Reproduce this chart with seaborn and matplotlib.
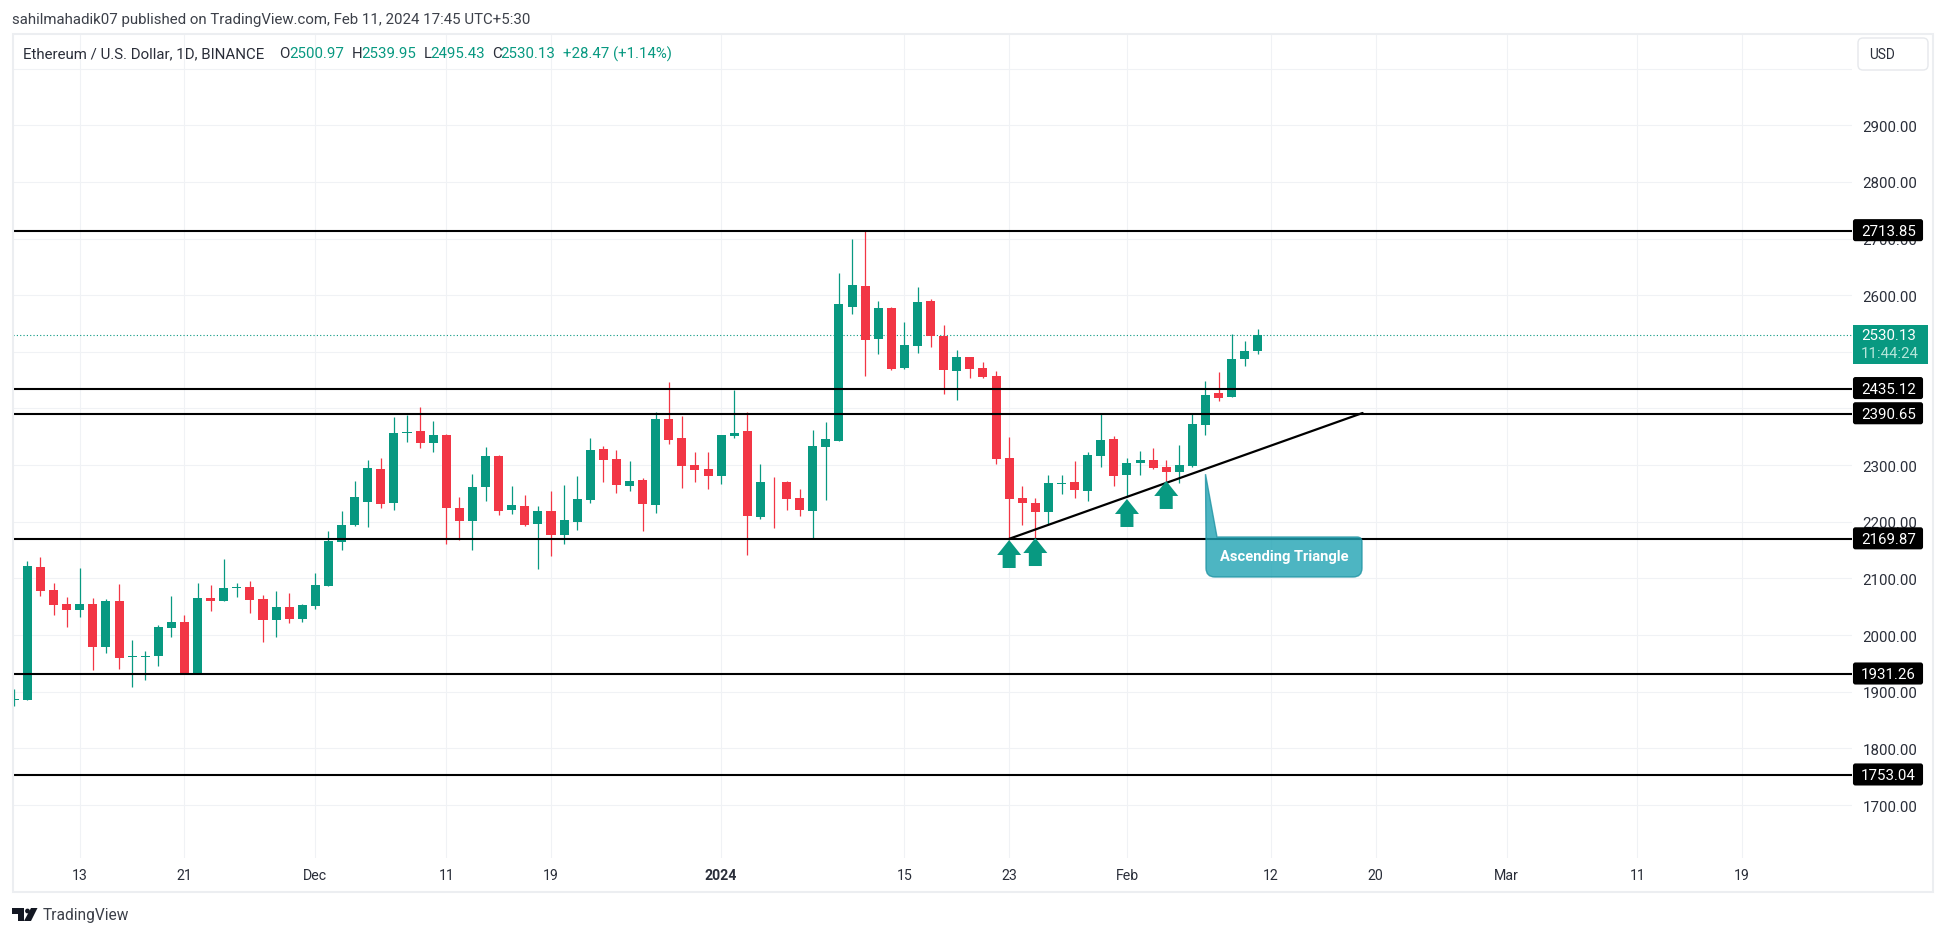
import numpy as np
import pandas as pd
import matplotlib
matplotlib.use('Agg')
import matplotlib.pyplot as plt
from matplotlib.patches import FancyBboxPatch, Rectangle, Polygon, PathPatch, Circle
from matplotlib.path import Path
from matplotlib.transforms import IdentityTransform
import seaborn as sns

opens = [1886, 1885.4, 2120, 2079.6, 2054.8, 2044.2, 2054.8, 1979, 2060.1, 1961.5, 1961.5, 1963, 2012.5, 2023, 1931.3, 2065.4,
         2060.1, 2083, 2084.9, 2063.7, 2026.6, 2049.6, 2028.3,
         2051.3, 2086.6, 2164.3, 2194.3, 2234.9, 2293.1, 2233, 2357.5, 2360.2, 2339, 2353.2, 2224.3, 2201.3, 2261.4, 2316,
         2220.8, 2227.8, 2196, 2219, 2176.6, 2199.6, 2238.4, 2328.5, 2310.8, 2263.2, 2273.7, 2229.6, 2381.4, 2347.9, 2300.2, 2293.1,
         2280.8, 2351.4, 2360.2, 2208.4, 2271, 2270.2, 2242, 2219, 2332, 2342.6, 2579, 2616, 2522.6, 2577.3, 2471.5, 2510.3,
         2589.7, 2527.9, 2466.1, 2490.8, 2471.5, 2457.3, 2312.6, 2242, 2233, 2217.2, 2267, 2270.2, 2254.3, 2316, 2346,
         2282.5, 2303.7, 2309, 2296.7, 2287.9, 2298.5, 2370.8, 2427.3, 2420.2, 2487.3, 2500.97]
highs = [1905, 2130, 2137.8, 2091.9, 2067.2, 2118.4, 2065.4, 2063.6, 2090.2, 1991.3, 1971.9, 2017.8, 2069, 2035.4, 2091.9, 2088.4,
         2134.3, 2091.9, 2095.4, 2070.8, 2077.8, 2074.2, 2054.9,
         2109.6, 2183.7, 2219, 2272, 2309, 2312.6, 2385, 2388.5, 2402.6, 2377.9, 2354.9, 2243.7, 2284.3, 2332, 2317.9,
         2263.2, 2247.3, 2227.8, 2254.3, 2264.9, 2280.8, 2347.9, 2333.8, 2326.7, 2307.3, 2277.3, 2393.8, 2446.7, 2386.7, 2323.2, 2323.2,
         2354, 2432.6, 2393.8, 2302, 2279, 2272, 2257.9, 2362, 2376, 2639, 2699, 2715, 2589.7, 2579, 2552.6, 2614.4,
         2593.2, 2547.3, 2503.2, 2491, 2482, 2466.2, 2349.6, 2263.2, 2242, 2282.5, 2282.5, 2307.3, 2323.2, 2390.2, 2351.4,
         2312.6, 2324.9, 2330.2, 2309, 2335.5, 2392, 2448.5, 2464.4, 2531.4, 2519, 2539.95]
lows = [1875, 1885, 2069, 2035.4, 2014.2, 2031.9, 1938.3, 1968.3, 1940, 1908.3, 1920.7, 1945.4, 1996.6, 1932, 1931, 2042.5,
        2060, 2067.2, 2039, 1987.8, 1996.6, 2021.3, 2023,
        2046, 2086, 2150.2, 2192.5, 2190.8, 2224.3, 2220.8, 2340.8, 2330.2, 2323.2, 2160.8, 2167.8, 2150.2, 2236.7, 2212,
        2213.7, 2192.5, 2116.6, 2139.6, 2160.8, 2185.5, 2233, 2270.2, 2250.8, 2254.3, 2183.7, 2215.5, 2337.3, 2259.6, 2270.2, 2257.9,
        2266.7, 2347.9, 2141.3, 2204.9, 2189, 2220.8, 2210.2, 2171.3, 2238.4, 2342, 2566.7, 2457.3, 2496.1, 2467.9, 2469.7, 2497.9,
        2508.5, 2425.5, 2415, 2453.8, 2453.8, 2302, 2167.8, 2194.3, 2171.3, 2196, 2249, 2242, 2236.7, 2296.7, 2263.2,
        2243.7, 2282.5, 2293.1, 2270.2, 2268.4, 2296.7, 2353.2, 2413.2, 2420, 2475, 2495.43]
closes = [1888, 2121.9, 2077.8, 2053, 2044.2, 2054.8, 1979, 2060.1, 1959.5, 1963, 1963, 2014.2, 2023, 1932.4, 2065.4, 2060.1,
          2083, 2084.5, 2061.9, 2026.6, 2049.6, 2028.3, 2053,
          2088.4, 2166, 2194.3, 2243.7, 2294.9, 2231.3, 2356.7, 2359, 2339, 2353.2, 2224.3, 2201.3, 2261.4, 2316, 2219,
          2229.6, 2194.3, 2219, 2176.6, 2203, 2240.2, 2326.7, 2309, 2264.9, 2272, 2231.3, 2381.4, 2344.3, 2298.5, 2291.3, 2280.8,
          2353.2, 2356.7, 2210.2, 2270.2, 2269.5, 2240.2, 2220.8, 2333.8, 2346, 2584.4, 2618, 2520.9, 2577.3, 2469.7, 2512, 2588,
          2527.9, 2467.9, 2490.8, 2469.7, 2455.5, 2310.8, 2240.2, 2233, 2217.2, 2268.4, 2269, 2256, 2317.9, 2344.3, 2280.8,
          2303.7, 2309, 2294.9, 2287.9, 2300.2, 2372.6, 2423.8, 2418.5, 2487.3, 2501.4, 2530.13]

levels = [2713.85, 2435.12, 2390.65, 2169.87, 1931.26, 1753.04]
last_close = 2530.13
price_ticks = [1700, 1800, 1900, 2000, 2100, 2200, 2300, 2400, 2500, 2600, 2700, 2800, 2900]
grid_top = 3000
tick_dates = ['2023-11-13', '2023-11-21', '2023-12-01', '2023-12-11', '2023-12-19', '2024-01-01', '2024-01-15',
              '2024-01-23', '2024-02-01', '2024-02-12', '2024-02-20', '2024-03-01', '2024-03-11', '2024-03-19']
tick_names = ['13', '21', 'Dec', '11', '19', '2024', '15', '23', 'Feb', '12', '20', 'Mar', '11', '19']
arrow_dates = ['2024-01-23', '2024-01-25', '2024-02-01', '2024-02-04']
arrow_prices = [2167.8, 2171.3, 2240.2, 2272]
trend_dates = ['2024-01-23', '2024-02-19']
trend_prices = [2169.87, 2392]
callout_date = '2024-02-07'
callout_price = 2284

GREEN = '#089981'
RED = '#f23645'
INK = '#2a2e39'
GRID = '#f0f2f5'
FRAME = '#eceef1'
FONT = 'Roboto'

W, H = 1946, 937

dates = pd.date_range('2023-11-08', periods=len(opens), freq='D')
df = pd.DataFrame({'date': dates, 'open': opens, 'high': highs, 'low': lows, 'close': closes})
df['day'] = (df['date'] - dates[0]).dt.days
df['bottom'] = df[['open', 'close']].min(axis=1)
df['body'] = (df['close'] - df['open']).abs().clip(lower=1.5)
df['up'] = df['close'] >= df['open']


def to_day(d):
    return (pd.Timestamp(d) - dates[0]).days


sns.set_theme(style='white')
plt.rcParams['font.family'] = [FONT, 'DejaVu Sans']

fig = plt.figure(figsize=(W / 100, H / 100), dpi=100, facecolor='white')
ax = fig.add_axes([13 / W, 1 - 859 / H, (1852 - 13) / W, (859 - 36) / H])

# candles
for is_up, color in [(True, GREEN), (False, RED)]:
    part = df[df['up'] == is_up]
    ax.vlines(part['day'], part['low'], part['high'], colors=color, linewidth=0.9, zorder=3)
    sns.barplot(data=part, x='day', y='body', bottom=part['bottom'].values, native_scale=True, errorbar=None,
                color=color, saturation=1, width=0.69, linewidth=0, zorder=4, ax=ax)

ax.set_xlim((13 - 14.3) / 13.09, (1852 - 14.3) / 13.09)
ax.set_ylim(1931.26 + (675 - 859) / 0.5665, 1931.26 + (675 - 36) / 0.5665)
ax.set_xlabel('')
ax.set_ylabel('')

ax.set_xticks([to_day(d) for d in tick_dates])
ax.set_xticklabels(tick_names)
ax.yaxis.tick_right()
ax.set_yticks(price_ticks + [grid_top])
ax.set_yticklabels([f'{p:.2f}' for p in price_ticks] + [''])
ax.tick_params(axis='x', length=0, pad=7, labelsize=10.2, labelcolor=INK)
ax.tick_params(axis='y', length=0, pad=7.5, labelsize=10.8, labelcolor=INK)
ax.get_xticklabels()[5].set_fontweight('bold')
ax.grid(True, color=GRID, linewidth=0.8)
ax.set_axisbelow(True)
for s in ax.spines.values():
    s.set_visible(False)

# levels and pattern
ax.axhline(last_close, color=GREEN, linewidth=0.8, linestyle=(0, (1, 2)), zorder=2)
for lv in levels:
    ax.axhline(lv, color='black', linewidth=1.5, zorder=5)
ax.plot([to_day(d) for d in trend_dates], trend_prices, color='black', linewidth=1.6, zorder=5,
        solid_capstyle='round')


def pix(day, price):
    return ax.transData.transform((day, price))


def fig_text(x, y, s, **kw):
    kw.setdefault('va', 'center')
    kw.setdefault('color', INK)
    kw.setdefault('fontsize', 10.8)
    fig.text(x, H - y, s, transform=IdentityTransform(), **kw)


# arrows, sizes in pixels around the tip
arrow_shape = np.array([[0, 0], [12, -15], [6.5, -15], [6.5, -28], [-6.5, -28], [-6.5, -15], [-12, -15]])
for d, p in zip(arrow_dates, arrow_prices):
    tip = pix(to_day(d), p)
    fig.add_artist(Polygon(arrow_shape + tip, closed=True, facecolor=GREEN, edgecolor='none',
                           transform=IdentityTransform(), zorder=6))

# callout
tip = pix(to_day(callout_date), callout_price)
xl, xr, yt, yb = 1206, 1362, H - 538, H - 578
r1, r2 = 5, 9
verts = [(xl, yt), tuple(tip), (xl + 11, yt), (xr - r1, yt), (xr, yt), (xr, yt - r1), (xr, yb + r2), (xr, yb),
         (xr - r2, yb), (xl + r2, yb), (xl, yb), (xl, yb + r2), (xl, yt)]
codes = [Path.MOVETO, Path.LINETO, Path.LINETO, Path.LINETO, Path.CURVE3, Path.CURVE3, Path.LINETO, Path.CURVE3,
         Path.CURVE3, Path.LINETO, Path.CURVE3, Path.CURVE3, Path.CLOSEPOLY]
fig.add_artist(PathPatch(Path(verts, codes), facecolor='#20a3b3', edgecolor='#1f93a3', alpha=0.8, linewidth=1,
                         transform=IdentityTransform(), zorder=7))
fig_text(1284, 557.5, 'Ascending Triangle', color='white', fontweight='bold', fontsize=10.6, ha='center', zorder=8)

# price tags
for lv in levels:
    y = pix(0, lv)[1]
    fig.add_artist(FancyBboxPatch((1854, y - 9.5), 68, 20, boxstyle='round,pad=0,rounding_size=1.5', facecolor='black',
                                  edgecolor='black', linewidth=1.5, transform=IdentityTransform(), zorder=9))
    fig_text(1888.5, H - y, f'{lv:.2f}', color='white', fontsize=10.8, ha='center', zorder=10)
fig.add_artist(Rectangle((1853, H - 365), 75, 39, facecolor=GREEN, edgecolor='none',
                         transform=IdentityTransform(), zorder=9))
fig_text(1889, 336.5, f'{last_close:.2f}', color='white', fontsize=10.8, ha='center', zorder=10)
fig_text(1890, 354.5, '11:44:24', color='#b5e6da', fontsize=10.8, ha='center', zorder=10)

# header
fig_text(12.5, 20, 'sahilmahadik07 published on TradingView.com, Feb 11, 2024 17:45 UTC+5:30', color='#3c4049')
fig_text(23, 54, 'Ethereum / U.S. Dollar, 1D, BINANCE')
for x, s in [(279, 'O'), (351.5, 'H'), (423.5, 'L'), (492, 'C')]:
    fig_text(x, 54, s)
for x, s in [(289.5, '2500.97'), (361, '2539.95'), (430.5, '2495.43'), (500.5, '2530.13'), (563, '+28.47 (+1.14%)')]:
    fig_text(x, 54, s, color=GREEN)

# frame and USD button
fig.add_artist(Rectangle((12.5, H - 892.5), 1920, 858, facecolor='none', edgecolor=FRAME, linewidth=1.5,
                         transform=IdentityTransform(), zorder=1))
fig.add_artist(FancyBboxPatch((1858, H - 71), 70, 32, boxstyle='round,pad=0,rounding_size=5', facecolor='white',
                              edgecolor='#e6e8ec', linewidth=1, transform=IdentityTransform(), zorder=9))
fig_text(1869, 55, 'USD', fontsize=9.8, zorder=10)

# TradingView mark
for pts in [[(12, 909), (24, 909), (24, 922), (18, 922), (18, 915), (12, 915)],
            [(31, 909), (37.5, 909), (31, 922), (24, 922)]]:
    fig.add_artist(Polygon([(a, H - b) for a, b in pts], closed=True, facecolor='#131722', edgecolor='none',
                           transform=IdentityTransform(), zorder=5))
fig.add_artist(Circle((27.5, H - 912), 2.4, facecolor='#131722', edgecolor='none', transform=IdentityTransform(), zorder=5))
fig_text(42.5, 916, 'TradingView', color='#3c4049', fontsize=11.2)

fig.savefig('out.png', dpi=100, facecolor='white')
